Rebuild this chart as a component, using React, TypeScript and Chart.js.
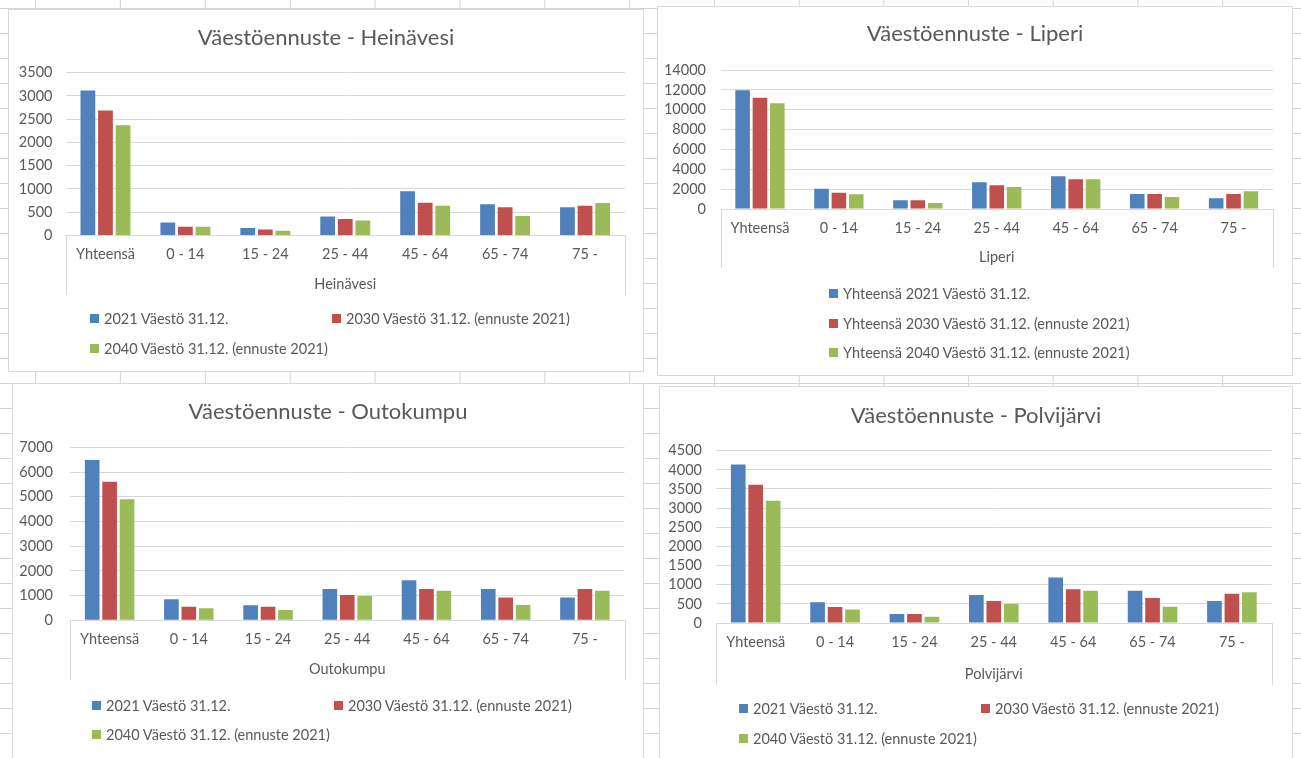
import React, { useEffect, useRef } from "react";
import { Chart, registerables } from "chart.js";

Chart.register(...registerables);

// ---------- DATA ----------
const categories = ["Yhteensä", "0 - 14", "15 - 24", "25 - 44", "45 - 64", "65 - 74", "75 -"];

const legendPlain = [
  "2021 Väestö 31.12.",
  "2030 Väestö 31.12. (ennuste 2021)",
  "2040 Väestö 31.12. (ennuste 2021)",
];
const legendLiperi = [
  "Yhteensä 2021 Väestö 31.12.",
  "Yhteensä 2030 Väestö 31.12. (ennuste 2021)",
  "Yhteensä 2040 Väestö 31.12. (ennuste 2021)",
];

const heinavesi2021 = [3120, 280, 160, 410, 950, 670, 605];
const heinavesi2030 = [2685, 190, 130, 355, 705, 605, 640];
const heinavesi2040 = [2370, 190, 100, 325, 640, 420, 700];

const liperi2021 = [11950, 2050, 880, 2690, 3290, 1510, 1080];
const liperi2030 = [11210, 1640, 880, 2390, 2990, 1510, 1510];
const liperi2040 = [10640, 1480, 600, 2220, 2990, 1210, 1780];

const outokumpu2021 = [6490, 850, 610, 1270, 1620, 1270, 920];
const outokumpu2030 = [5610, 550, 550, 1020, 1270, 920, 1270];
const outokumpu2040 = [4900, 490, 420, 985, 1200, 620, 1200];

const polvijarvi2021 = [4140, 540, 235, 730, 1190, 845, 575];
const polvijarvi2030 = [3610, 420, 235, 575, 880, 655, 765];
const polvijarvi2040 = [3195, 350, 160, 495, 845, 425, 800];

const seriesColors = ["#4F81BD", "#C0504D", "#9BBB59"];
const TEXT = "#595959";
const LINE = "#d9d9d9";
const FONT = 'Lato, "Open Sans", "Noto Sans", sans-serif';
const SMALL = 14.5;
const TITLE = 22;

// ---------- LAYOUT ----------
type Cfg = {
  title: string;
  axisTitle: string;
  series: number[][];
  legend: string[];
  yMax: number;
  yStep: number;
  box: { x: number; y: number; w: number; h: number };
  plot: { left: number; right: number; top: number; bottom: number };
  edgeBottom: number;
  tickPad: number;
  titleY: number;
  legendPos: { x: number; y: number }[];
};

const configs: Cfg[] = [
  {
    title: "Väestöennuste - Heinävesi",
    axisTitle: "Heinävesi",
    series: [heinavesi2021, heinavesi2030, heinavesi2040],
    legend: legendPlain,
    yMax: 3500,
    yStep: 500,
    box: { x: 8, y: 9, w: 636, h: 363 },
    plot: { left: 65.5, right: 625, top: 72.7, bottom: 235.5 },
    edgeBottom: 295,
    tickPad: 13,
    titleY: 37,
    legendPos: [
      { x: 90, y: 318 },
      { x: 332, y: 318 },
      { x: 90, y: 348 },
    ],
  },
  {
    title: "Väestöennuste - Liperi",
    axisTitle: "Liperi",
    series: [liperi2021, liperi2030, liperi2040],
    legend: legendLiperi,
    yMax: 14000,
    yStep: 2000,
    box: { x: 657, y: 6, w: 636, h: 370 },
    plot: { left: 720.5, right: 1273, top: 70, bottom: 209 },
    edgeBottom: 268,
    tickPad: 14.5,
    titleY: 33,
    legendPos: [
      { x: 829, y: 293 },
      { x: 829, y: 323 },
      { x: 829, y: 352 },
    ],
  },
  {
    title: "Väestöennuste - Outokumpu",
    axisTitle: "Outokumpu",
    series: [outokumpu2021, outokumpu2030, outokumpu2040],
    legend: legendPlain,
    yMax: 7000,
    yStep: 1000,
    box: { x: 12, y: 383, w: 632, h: 376 },
    plot: { left: 70, right: 624.5, top: 447.3, bottom: 620.3 },
    edgeBottom: 680,
    tickPad: 17,
    titleY: 411,
    legendPos: [
      { x: 92, y: 705 },
      { x: 334, y: 705 },
      { x: 92, y: 734 },
    ],
  },
  {
    title: "Väestöennuste - Polvijärvi",
    axisTitle: "Polvijärvi",
    series: [polvijarvi2021, polvijarvi2030, polvijarvi2040],
    legend: legendPlain,
    yMax: 4500,
    yStep: 500,
    box: { x: 659, y: 386, w: 634, h: 374 },
    plot: { left: 716, right: 1271.6, top: 450.7, bottom: 623 },
    edgeBottom: 685,
    tickPad: 14,
    titleY: 415,
    legendPos: [
      { x: 739, y: 708 },
      { x: 981, y: 708 },
      { x: 739, y: 738 },
    ],
  },
];

const edgeLines = {
  id: "edgeLines",
  afterDraw(chart: any) {
    const xs = chart.scales.x;
    const { ctx, chartArea } = chart;
    ctx.save();
    ctx.strokeStyle = LINE;
    ctx.lineWidth = 1;
    ctx.beginPath();
    for (const px of [chartArea.left, chartArea.right]) {
      const xx = Math.round(px) + 0.5;
      ctx.moveTo(xx, chartArea.bottom);
      ctx.lineTo(xx, xs.bottom);
    }
    ctx.stroke();
    ctx.restore();
  },
};

function ChartPanel({ cfg }: { cfg: Cfg }) {
  const ref = useRef<HTMLCanvasElement | null>(null);
  const { box, plot } = cfg;
  useEffect(() => {
    if (!ref.current) return;
    const right = box.x + box.w - plot.right;
    const yWidth = plot.left - box.x;
    const top = plot.top - box.y;
    const xh = cfg.edgeBottom - plot.bottom;
    const pb = box.y + box.h - cfg.edgeBottom;

    const chart = new Chart(ref.current, {
      type: "bar",
      data: {
        labels: categories,
        datasets: cfg.series.map((d, i) => ({
          label: cfg.legend[i],
          data: d,
          backgroundColor: seriesColors[i],
          categoryPercentage: 0.66,
          barPercentage: 0.84,
        })),
      },
      options: {
        responsive: false,
        animation: false,
        layout: { padding: { left: 0, right, top, bottom: pb } },
        plugins: {
          legend: { display: false },
          tooltip: { enabled: false },
          title: { display: false },
        },
        scales: {
          x: {
            grid: { display: false, drawTicks: false },
            border: { display: true, color: LINE },
            ticks: {
              color: TEXT,
              font: { family: FONT, size: SMALL },
              padding: 10.5,
              maxRotation: 0,
              autoSkip: false,
            },
            title: {
              display: true,
              text: cfg.axisTitle,
              color: TEXT,
              font: { family: FONT, size: SMALL },
              padding: { top: 0, bottom: 1.5 },
            },
            afterFit: (s: any) => {
              s.height = xh;
            },
          },
          y: {
            min: 0,
            max: cfg.yMax,
            ticks: {
              stepSize: cfg.yStep,
              autoSkip: false,
              color: TEXT,
              font: { family: FONT, size: SMALL },
              padding: cfg.tickPad,
              callback: (v: any) => String(v),
            },
            grid: { color: LINE, drawTicks: false },
            border: { display: false },
            afterFit: (s: any) => {
              s.width = yWidth;
            },
          },
        },
      } as any,
      plugins: [edgeLines],
    });
    return () => chart.destroy();
  }, [cfg]);

  return (
    <>
      <div
        style={{
          position: "absolute",
          left: box.x,
          top: box.y,
          width: box.w,
          height: box.h,
          boxSizing: "border-box",
          border: `1px solid ${LINE}`,
          background: "#fff",
        }}
      />
      <canvas
        ref={ref}
        width={box.w}
        height={box.h}
        style={{ position: "absolute", left: box.x, top: box.y, width: box.w, height: box.h }}
      />
      <div
        style={{
          position: "absolute",
          left: box.x,
          width: box.w,
          top: cfg.titleY - 14,
          height: 28,
          lineHeight: "28px",
          textAlign: "center",
          fontFamily: FONT,
          fontSize: TITLE,
          color: TEXT,
          whiteSpace: "nowrap",
        }}
      >
        {cfg.title}
      </div>
      {cfg.legendPos.map((p, i) => (
        <div
          key={i}
          style={{
            position: "absolute",
            left: p.x,
            top: p.y - 10,
            height: 20,
            display: "flex",
            alignItems: "center",
            whiteSpace: "nowrap",
            fontFamily: FONT,
            fontSize: SMALL,
            color: TEXT,
          }}
        >
          <span
            style={{
              display: "inline-block",
              width: 9,
              height: 9,
              background: seriesColors[i],
              marginRight: 5,
            }}
          />
          <span>{cfg.legend[i]}</span>
        </div>
      ))}
    </>
  );
}

export default function App() {
  const gridBg = (offX: number, period: number) => ({
    backgroundColor: "#fff",
    backgroundImage:
      "linear-gradient(to right, #d4d4d4 1px, transparent 1px), linear-gradient(to bottom, #d4d4d4 1px, transparent 1px)",
    backgroundSize: `${period}px 25px`,
    backgroundPosition: `${offX}px 8px`,
  });
  return (
    <div
      style={{
        position: "fixed",
        left: 0,
        top: 0,
        width: 1301,
        height: 758,
        overflow: "hidden",
        background: "#fff",
      }}
    >
      <div style={{ position: "absolute", left: 0, top: 0, width: 650, height: 758, ...gridBg(35, 84.9) }} />
      <div style={{ position: "absolute", left: 650, top: 0, width: 651, height: 758, ...gridBg(64, 84.7) }} />
      {configs.map((c, i) => (
        <ChartPanel key={i} cfg={c} />
      ))}
    </div>
  );
}
